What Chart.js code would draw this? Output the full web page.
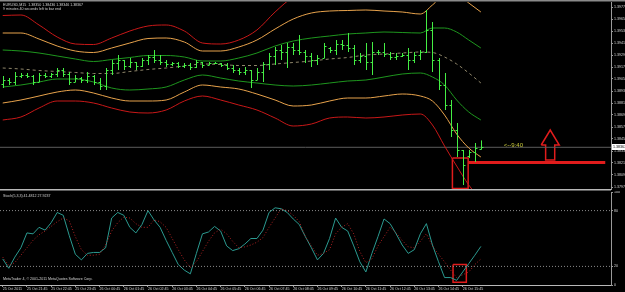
<!DOCTYPE html>
<html>
<head>
<meta charset="utf-8">
<script src="https://cdn.jsdelivr.net/npm/chart.js@4.4.0/dist/chart.umd.min.js"></script>
<style>
  html, body { margin: 0; padding: 0; background: #000; }
  body { width: 625px; height: 292px; position: relative; overflow: hidden; }
  #main { position: absolute; left: 0; top: 0; }
  #stoch { position: absolute; left: 0; top: 191px; }
</style>
</head>
<body>
<canvas id="main" width="625" height="191"></canvas>
<canvas id="stoch" width="625" height="101"></canvas>
<script>
// EURUSD M15, 25-26 Oct 2011, bars by index (0 = 25 Oct 20:45)
const opens = [1.3900,1.3904,1.3902,1.3908,1.3909,1.3908,1.3902,1.3909,1.3908,1.3910,
  1.3914,1.3910,1.3902,1.3906,1.3904,1.3908,1.3902,1.3898,1.3914,1.3921,
  1.3924,1.3918,1.3922,1.3918,1.3924,1.3927,1.3924,1.3922,1.3920,1.3921,
  1.3918,1.3919,1.3917,1.3922,1.3919,1.3921,1.3921,1.3919,1.3916,1.3914,
  1.3912,1.3914,1.3904,1.3912,1.3920,1.3928,1.3934,1.3932,1.3937,1.3934,
  1.3932,1.3928,1.3924,1.3926,1.3936,1.3934,1.3940,1.3939,1.3936,1.3924,
  1.3928,1.3922,1.3932,1.3932,1.3930,1.3927,1.3928,1.3929,1.3924,1.3929,
  1.3932,1.3954,1.3924,1.3899,1.3879,1.3854,1.3834,1.3828,1.3832,1.38350];
const highs = [1.3908,1.3906,1.3912,1.3911,1.3911,1.3909,1.3911,1.3911,1.3911,1.3916,
  1.3916,1.3912,1.3909,1.3907,1.3912,1.3909,1.3906,1.3916,1.3924,1.3929,
  1.3924,1.3926,1.3922,1.3926,1.3929,1.3934,1.3929,1.3924,1.3922,1.3922,
  1.3921,1.3921,1.3924,1.3922,1.3922,1.3922,1.3921,1.3921,1.3919,1.3916,
  1.3917,1.3914,1.3916,1.3922,1.3931,1.3937,1.3939,1.3941,1.3941,1.3949,
  1.3934,1.3931,1.3929,1.3941,1.3937,1.3944,1.3944,1.3951,1.3939,1.3931,
  1.3941,1.3942,1.3934,1.3941,1.3932,1.3931,1.3931,1.3936,1.3932,1.3934,
  1.3974,1.3962,1.3926,1.3911,1.3884,1.3861,1.3834,1.3834,1.3841,1.38436];
const lows = [1.3896,1.3899,1.3899,1.3906,1.3906,1.3899,1.3902,1.3906,1.3906,1.3907,
  1.3907,1.3899,1.3902,1.3901,1.3901,1.3899,1.3894,1.3894,1.3909,1.3914,
  1.3914,1.3916,1.3914,1.3917,1.3919,1.3921,1.3919,1.3917,1.3918,1.3916,
  1.3916,1.3914,1.3916,1.3916,1.3919,1.3920,1.3917,1.3914,1.3911,1.3909,
  1.3909,1.3896,1.3904,1.3902,1.3914,1.3919,1.3924,1.3916,1.3929,1.3929,
  1.3921,1.3917,1.3919,1.3926,1.3931,1.3929,1.3934,1.3932,1.3919,1.3921,
  1.3914,1.3909,1.3929,1.3927,1.3924,1.3924,1.3927,1.3914,1.3921,1.3924,
  1.3931,1.3912,1.3894,1.3874,1.3847,1.3827,1.3799,1.3826,1.3822,1.38346];
const closes = [1.3904,1.3902,1.3908,1.3909,1.3908,1.3902,1.3909,1.3908,1.3910,1.3914,
  1.3910,1.3902,1.3906,1.3904,1.3908,1.3902,1.3898,1.3914,1.3921,1.3924,
  1.3918,1.3922,1.3918,1.3924,1.3927,1.3924,1.3922,1.3920,1.3921,1.3918,
  1.3919,1.3917,1.3922,1.3919,1.3921,1.3921,1.3919,1.3916,1.3914,1.3912,
  1.3914,1.3904,1.3912,1.3920,1.3928,1.3934,1.3932,1.3937,1.3934,1.3932,
  1.3928,1.3924,1.3926,1.3938,1.3934,1.3940,1.3939,1.3936,1.3924,1.3928,
  1.3922,1.3932,1.3932,1.3930,1.3927,1.3928,1.3929,1.3924,1.3929,1.3932,
  1.3954,1.3924,1.3899,1.3879,1.3854,1.3834,1.3819,1.3832,1.3836,1.38367];

// bollinger bands read at these bar indices
const bandIdx = [0,3,6,9,12,15,18,21,24,27,30,33,36,39,42,45,48,51,54,57,60,63,66,69,71,73,75,77,79];
const redUp = [1.39685,1.3969,1.3959,1.3947,1.3940,1.39395,1.3946,1.3953,1.3958,1.3959,1.3953,1.3941,1.3940,1.3944,1.3954,1.3972,1.3987,1.3994,1.3988,1.3983,1.3987,1.3993,1.3995,1.3993,1.3994,1.4002,1.4009,1.4012,1.4009];
const orangeUp = [1.3951,1.3951,1.3945,1.3938,1.3933,1.39315,1.3936,1.3941,1.39455,1.3946,1.3942,1.3933,1.3933,1.3937,1.3944,1.3955,1.3965,1.3971,1.3973,1.39735,1.3974,1.3973,1.3972,1.3970,1.3979,1.3989,1.3990,1.3981,1.3972];
const greenUp = [1.3934,1.3933,1.3931,1.3928,1.3925,1.39225,1.39245,1.39265,1.39285,1.39285,1.3927,1.3923,1.3923,1.3926,1.3931,1.3938,1.3943,1.3946,1.3948,1.3950,1.3951,1.3952,1.39515,1.3951,1.3956,1.3956,1.3952,1.3944,1.3936];
const middle = [1.3916,1.3915,1.39135,1.39125,1.39115,1.39105,1.39105,1.39125,1.39145,1.3916,1.3918,1.3920,1.39195,1.39185,1.39185,1.3920,1.39215,1.3923,1.3925,1.39265,1.3929,1.3930,1.3931,1.3932,1.39315,1.3927,1.3920,1.3911,1.3901];
const greenLow = [1.3897,1.3899,1.3902,1.3905,1.3905,1.3902,1.3896,1.3894,1.3895,1.3897,1.3904,1.3909,1.3906,1.3903,1.3901,1.3899,1.3898,1.3899,1.3901,1.3903,1.3904,1.3907,1.3910,1.3911,1.3907,1.3899,1.3884,1.3872,1.3864];
const orangeLow = [1.3881,1.3884,1.3888,1.3892,1.3894,1.3891,1.3886,1.3883,1.3883,1.3884,1.3892,1.3899,1.3897,1.3895,1.3890,1.3884,1.3878,1.3879,1.3883,1.3886,1.3886,1.3888,1.3890,1.3888,1.3883,1.3869,1.3850,1.3836,1.3827];
const redLow = [1.3864,1.3867,1.3876,1.3883,1.3883,1.3881,1.3876,1.3872,1.3871,1.3874,1.3883,1.3888,1.3884,1.3879,1.3874,1.3866,1.3858,1.3860,1.3866,1.3867,1.3866,1.3867,1.3869,1.3870,1.3859,1.3838,1.3818,1.3799,1.3784];

// stochastic (5,3,3)
const stochMain = [28,18,30,40,56,55,62,59,67,78, 75,53,33,27,34,35,35,40,72,78,
  75,62,56,65,80,70,62,48,35,22, 16,12,34,55,57,63,58,42,37,39,
  44,50,50,59,78,83,82,78,71,65, 52,40,27,34,50,72,62,58,42,25,
  14,34,52,71,66,55,43,34,38,55, 66,43,25,8,8,5,14,23,32,41.4812];
const stochSignal = [30,21,24,32,40,48,54,58,63,68, 72,69,52,38,32,32,33,43,58,67,
  73,72,66,62,62,70,68,62,50,38, 27,19,25,36,47,56,60,55,47,40,
  41,43,46,51,62,72,82,80,75,68, 52,42,32,34,38,55,62,66,55,36,
  24,28,42,52,62,56,48,41,40,47, 55,42,33,25,16,8,11,14,22,27.9237];
const stochLevels = [20, 80];

// axes
const timeTickIdx = [0,4,8,12,16,20,24,28,32,36,40,44,48,52,56,60,64,68,72,76];
const timeLabels = ["25 Oct 2011","25 Oct 21:45","25 Oct 22:45","25 Oct 23:45","26 Oct 00:45","26 Oct 01:45",
  "26 Oct 02:45","26 Oct 03:45","26 Oct 04:45","26 Oct 05:45","26 Oct 06:45","26 Oct 07:45","26 Oct 08:45",
  "26 Oct 09:45","26 Oct 10:45","26 Oct 11:45","26 Oct 12:45","26 Oct 13:45","26 Oct 14:45","26 Oct 15:45"];
const priceTicks = [1.3977,1.3965,1.3953,1.3941,1.3929,1.3917,1.3905,1.3893,1.3881,1.3869,1.3857,1.3845,1.3833,1.3821,1.3809,1.3797];
const priceTickLabels = ["1.39770","1.39650","1.39530","1.39410","1.39290","1.39170","1.39050","1.38930",
  "1.38810","1.38690","1.38570","1.38450","1.38330","1.38210","1.38090","1.37970"];
const stochTicks = [0, 20, 80, 100];
const stochTickLabels = ["0", "20", "80", "100"];

// drawn objects
const bid = 1.38367;
const hlinePrice = 1.38215, hlineIdx = [76.9, 99.55];
const boxMainIdx = [74.3, 76.9], boxMainPrice = [1.3826, 1.37955];
const arrowIdx = [88.97, 89.7, 89.7, 91.2, 91.2, 91.95, 90.46, 88.97];
const arrowPrice = [1.3839, 1.3839, 1.3824, 1.3824, 1.3839, 1.3839, 1.3854, 1.3839];
const boxStochIdx = [74.4, 76.6], boxStochVal = [22, 3];
const timerText = "<--9:40", timerIdx = 82.8;

const xMin = -0.45, xMax = 100.5;
const priceMin = 1.3795, priceMax = 1.3982;

const FONT = 'Liberation Sans';
const SMALL = 3.6;
const labelColor = '#d4d4d4';
const axisColor = '#9a9a9a';
const candleColor = '#44ee44';
const red = '#e01c1c';

Chart.defaults.animation = false;
Chart.defaults.font.family = FONT;

function pts(xs, ys) { return xs.map((v, k) => ({ x: v, y: ys[k] })); }
function band(vals, color, dash) {
  return { data: pts(bandIdx, vals), borderColor: color, borderWidth: 1, borderDash: dash || [],
    pointRadius: 0, cubicInterpolationMode: 'monotone', fill: false };
}
function rect(xs, ys) {
  return [{x: xs[0], y: ys[0]}, {x: xs[1], y: ys[0]}, {x: xs[1], y: ys[1]}, {x: xs[0], y: ys[1]}, {x: xs[0], y: ys[0]}];
}
function shape(data, color, width) {
  return { data: data, borderColor: color, borderWidth: width, pointRadius: 0, tension: 0, fill: false };
}
function text(ctx, s, x, y, color, size, align) {
  ctx.font = size + 'px "' + FONT + '"';
  ctx.fillStyle = color;
  ctx.textAlign = align || 'left';
  ctx.textBaseline = 'middle';
  ctx.fillText(s, x, y);
}

const mainPlugin = {
  id: 'mainPlugin',
  afterDatasetsDraw(chart) {
    const { ctx, chartArea: a, scales: { x, y } } = chart;
    ctx.save();
    ctx.beginPath();
    ctx.rect(a.left, a.top, a.right - a.left, a.bottom - a.top);
    ctx.clip();
    ctx.strokeStyle = candleColor;
    ctx.lineWidth = 1;
    for (let i = 0; i < opens.length; i++) {
      const px = Math.round(x.getPixelForValue(i)) + 0.5;
      const o = Math.round(y.getPixelForValue(opens[i])) + 0.5;
      const c = Math.round(y.getPixelForValue(closes[i])) + 0.5;
      ctx.beginPath();
      ctx.moveTo(px, y.getPixelForValue(highs[i]));
      ctx.lineTo(px, y.getPixelForValue(lows[i]));
      ctx.moveTo(px - 2, o); ctx.lineTo(px, o);
      ctx.moveTo(px, c); ctx.lineTo(px + 2, c);
      ctx.stroke();
    }
    ctx.restore();
  },
  afterDraw(chart) {
    const { ctx, chartArea: a, scales: { x, y } } = chart;
    ctx.save();
    // frame
    ctx.strokeStyle = '#8a8a8a';
    ctx.lineWidth = 1.5;
    ctx.beginPath(); ctx.moveTo(0, 0.75); ctx.lineTo(625, 0.75); ctx.stroke();
    ctx.strokeStyle = '#b8b8b8';
    ctx.beginPath(); ctx.moveTo(0, a.bottom + 0.75); ctx.lineTo(a.right, a.bottom + 0.75); ctx.stroke();
    // header
    text(ctx, 'EURUSD,M15  1.38350 1.38436 1.38346 1.38367', 3, 4.5, labelColor, SMALL);
    text(ctx, '9 minutes 40 seconds left to bar end', 3, 8.5, labelColor, SMALL);
    // timer
    text(ctx, timerText, x.getPixelForValue(timerIdx), y.getPixelForValue(bid) - 1.5, '#c9c93a', 6);
    // price box
    const by = Math.round(y.getPixelForValue(bid));
    ctx.fillStyle = '#ffffff';
    ctx.fillRect(a.right + 1, by - 3, 625 - a.right, 6);
    text(ctx, bid.toFixed(5), a.right + 2, by, '#000000', SMALL);
    ctx.restore();
  }
};

new Chart(document.getElementById('main'), {
  type: 'line',
  data: {
    datasets: [
      band(redUp, '#c81818'),
      band(orangeUp, '#e8a34c'),
      band(greenUp, '#1e961e'),
      band(middle, '#8f866a', [3, 3]),
      band(greenLow, '#1e961e'),
      band(orangeLow, '#e8a34c'),
      band(redLow, '#c81818'),
      shape([{x: xMin, y: bid}, {x: xMax, y: bid}], '#5c5c5c', 1),
      shape([{x: hlineIdx[0], y: hlinePrice}, {x: hlineIdx[1], y: hlinePrice}], red, 3),
      shape(rect(boxMainIdx, boxMainPrice), red, 1.5),
      shape(pts(arrowIdx, arrowPrice), red, 1.5)
    ]
  },
  options: {
    responsive: false,
    events: [],
    layout: { padding: { top: 2, bottom: 2, left: 0, right: 0 } },
    plugins: { legend: { display: false }, tooltip: { enabled: false } },
    scales: {
      x: { type: 'linear', min: xMin, max: xMax, display: false },
      y: {
        type: 'linear', position: 'right', min: priceMin, max: priceMax,
        afterBuildTicks: s => { s.ticks = priceTicks.map(v => ({ value: v })); },
        afterFit: s => { s.width = 14; s.paddingTop = 0; s.paddingBottom = 0; },
        ticks: { color: labelColor, font: { size: SMALL }, padding: 1, callback: (v, i) => priceTickLabels[i] },
        grid: { drawOnChartArea: false, drawTicks: true, tickLength: 2, color: axisColor },
        border: { display: true, color: axisColor, width: 1 }
      }
    }
  },
  plugins: [mainPlugin]
});

const stochPlugin = {
  id: 'stochPlugin',
  afterDraw(chart) {
    const { ctx, chartArea: a } = chart;
    ctx.save();
    ctx.strokeStyle = '#b8b8b8';
    ctx.lineWidth = 1;
    ctx.beginPath(); ctx.moveTo(0, a.bottom + 0.5); ctx.lineTo(a.right, a.bottom + 0.5); ctx.stroke();
    text(ctx, 'Stoch(5,3,3) 41.4812 27.9237', 3, 4.5, labelColor, SMALL);
    text(ctx, 'MetaTrader 4, \u00a9 2001-2011 MetaQuotes Software Corp.', 3, 88, labelColor, SMALL);
    ctx.restore();
  }
};

const idx = stochMain.map((v, i) => i);
const levelStyle = { borderDash: [1, 2] };
new Chart(document.getElementById('stoch'), {
  type: 'line',
  data: {
    datasets: [
      Object.assign(shape([{x: xMin, y: stochLevels[0]}, {x: xMax, y: stochLevels[0]}], '#8a8a8a', 1), levelStyle),
      Object.assign(shape([{x: xMin, y: stochLevels[1]}, {x: xMax, y: stochLevels[1]}], '#8a8a8a', 1), levelStyle),
      { data: pts(idx, stochSignal), borderColor: '#b02222', borderWidth: 1, borderDash: [1, 2], pointRadius: 0, tension: 0 },
      { data: pts(idx, stochMain), borderColor: '#2b9a90', borderWidth: 1, pointRadius: 0, tension: 0 },
      shape(rect(boxStochIdx, boxStochVal), red, 1.5)
    ]
  },
  options: {
    responsive: false,
    events: [],
    layout: { padding: { top: 1, bottom: 0, left: 0, right: 0 } },
    plugins: { legend: { display: false }, tooltip: { enabled: false } },
    scales: {
      x: {
        type: 'linear', min: xMin, max: xMax, position: 'bottom',
        afterBuildTicks: s => { s.ticks = timeTickIdx.map(v => ({ value: v })); },
        afterFit: s => { s.height = 7; s.paddingLeft = 0; s.paddingRight = 0; },
        ticks: { autoSkip: false, maxRotation: 0, minRotation: 0, align: 'start', padding: 0,
          color: labelColor, font: { size: SMALL }, callback: (v, i) => timeLabels[i] },
        grid: { drawOnChartArea: false, drawTicks: true, tickLength: 2, color: axisColor },
        border: { display: false }
      },
      y: {
        type: 'linear', position: 'right', min: 0, max: 100,
        afterBuildTicks: s => { s.ticks = stochTicks.map(v => ({ value: v })); },
        afterFit: s => { s.width = 14; s.paddingTop = 0; s.paddingBottom = 0; },
        ticks: { color: labelColor, font: { size: SMALL }, padding: 1, callback: (v, i) => stochTickLabels[i] },
        grid: { drawOnChartArea: false, drawTicks: true, tickLength: 2, color: axisColor },
        border: { display: true, color: axisColor, width: 1 }
      }
    }
  },
  plugins: [stochPlugin]
});
</script>
</body>
</html>
